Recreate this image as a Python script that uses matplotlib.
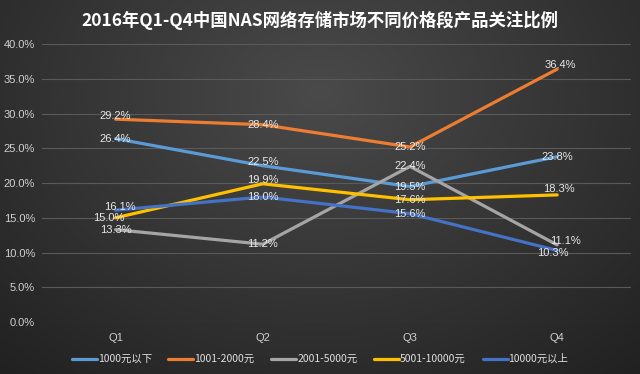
import matplotlib
matplotlib.use("Agg")
import matplotlib.pyplot as plt
import numpy as np

plt.rcParams['font.family'] = ['Noto Sans CJK SC', 'DejaVu Sans']

quarters = ['Q1', 'Q2', 'Q3', 'Q4']
series_names = ['1000元以下', '1001-2000元', '2001-5000元', '5001-10000元', '10000元以上']
s1 = [26.4, 22.5, 19.5, 23.8]
s2 = [29.2, 28.4, 25.2, 36.4]
s3 = [13.3, 11.2, 22.4, 11.1]
s4 = [15.0, 19.9, 17.6, 18.3]
s5 = [16.1, 18.0, 15.6, 10.3]
colors = ['#5b9bd5', '#ed7d31', '#a5a5a5', '#ffc000', '#4472c4']

# small label nudges (points) so the labels sit like the original
nudges = {
    (0, 1): (0, 2), (3, 1): (2, 3), (3, 2): (6, 3), (3, 4): (-3, -2),
    (0, 3): (-5, 0), (0, 4): (3, 2), (1, 3): (0, 3), (1, 0): (0, 3),
    (3, 3): (1, 4),
}

fig = plt.figure(figsize=(6.4, 3.74), dpi=100)

# dark radial-ish background
bg = fig.add_axes([0, 0, 1, 1], zorder=-10)
yy, xx = np.mgrid[0:1:200j, 0:1:300j]
d = np.sqrt(((xx - 0.5) / 0.75) ** 2 + ((yy - 0.25) / 1.0) ** 2)
shade = np.clip(0.29 - 0.16 * d, 0.10, 0.30)
bg.imshow(np.dstack([shade] * 3), aspect='auto', extent=[0, 1, 0, 1], origin='upper')
bg.axis('off')

ax = fig.add_axes([0.0656, 0.139, 0.92, 0.743])
ax.patch.set_alpha(0)
x = np.arange(len(quarters))
all_series = [s1, s2, s3, s4, s5]
for i, (vals, name, c) in enumerate(zip(all_series, series_names, colors)):
    ax.plot(x, np.array(vals) / 100, color=c, lw=2.3, label=name, solid_capstyle='round', zorder=3)
for i, vals in enumerate(all_series):
    for j, v in enumerate(vals):
        dx, dy = nudges.get((j, i), (0, 0))
        ax.annotate(f'{v:.1f}%', (j, v / 100), xytext=(dx, dy), textcoords='offset points',
                    ha='center', va='center', color='#e8e8e8', fontsize=8,
                    family=['Liberation Sans'], zorder=5)

ax.set_xlim(-0.5, 3.5)
ax.set_ylim(0, 0.40)
ax.set_yticks(np.arange(0, 0.41, 0.05))
ax.set_yticklabels([f'{t * 100:.1f}%' for t in np.arange(0, 0.41, 0.05)])
ax.set_xticks(x)
ax.set_xticklabels(quarters)
ax.tick_params(colors='#d0d0d0', labelsize=8, length=0)
ax.tick_params(axis='y', pad=5)
ax.tick_params(axis='x', pad=8)
for lab in ax.get_yticklabels() + ax.get_xticklabels():
    lab.set_family(['Liberation Sans'])
ax.grid(axis='y', color='#5a5a5a', lw=0.8)
for sp in ax.spines.values():
    sp.set_visible(False)
ax.set_axisbelow(True)

fig.text(0.5, 0.945, '2016年Q1-Q4中国NAS网络存储市场不同价格段产品关注比例',
         ha='center', va='center', color='white', fontsize=12.5, fontweight='bold')

leg = fig.legend(loc='center', bbox_to_anchor=(0.5, 0.04), ncol=5, frameon=False,
                 fontsize=7.5, handlelength=2.4, columnspacing=1.6, handletextpad=0.1)
for t in leg.get_texts():
    t.set_color('#e0e0e0')

fig.savefig('out.png', dpi=100)
